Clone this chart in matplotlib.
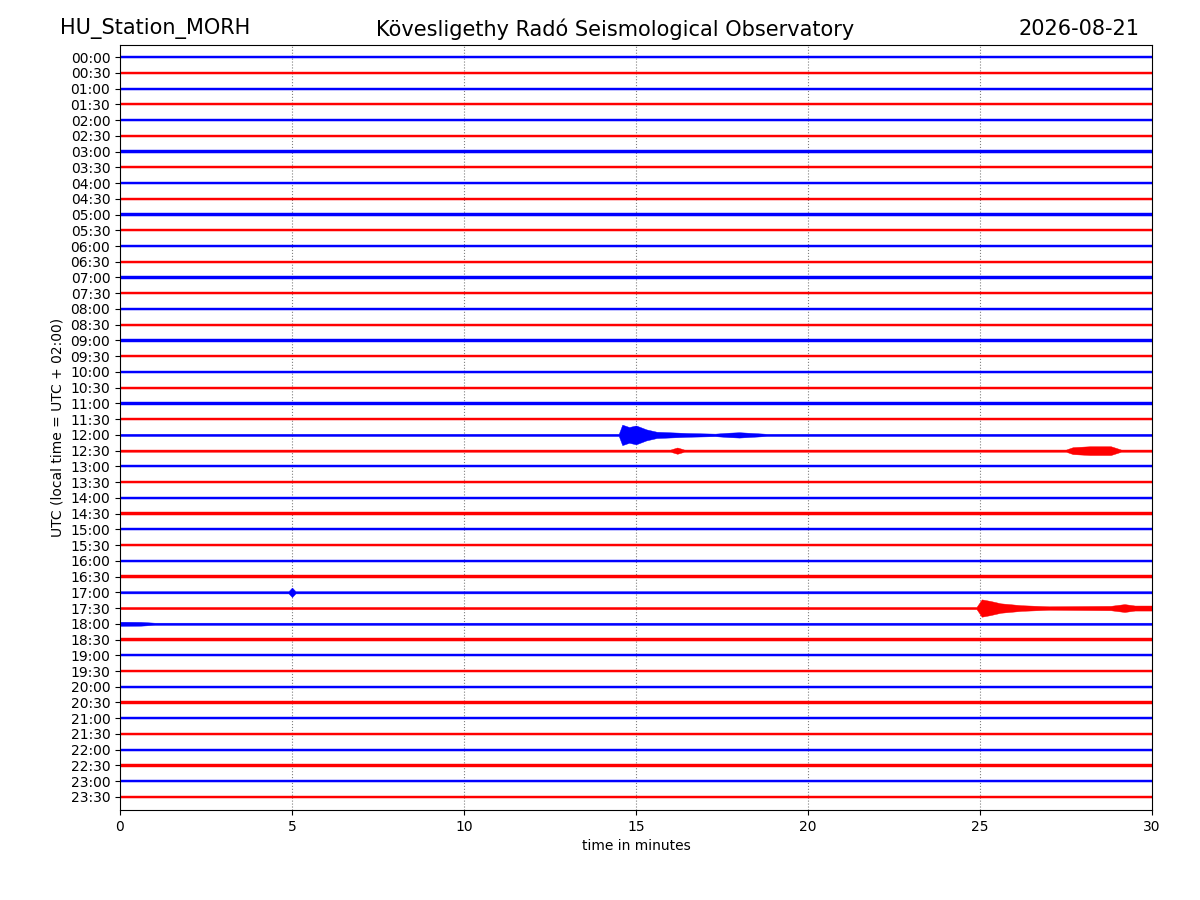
import matplotlib
matplotlib.use("Agg")
import matplotlib.pyplot as plt

station = "HU_Station_MORH"
title = "Kövesligethy Radó Seismological Observatory"
date = "2026-08-21"
row_labels = [f"{h:02d}:{m:02d}" for h in range(24) for m in (0, 30)]
colors = ["blue", "red"]

# default noise half-width (in row units)
nw = 0.07

# event envelopes: row index -> (minute knots, half-width knots)
events = {
    24: ([0, 14.5, 14.6, 14.8, 15.0, 15.3, 15.6, 16.5, 17.3, 17.7, 18.0, 18.4, 18.8, 30],
         [nw, nw, 0.65, 0.5, 0.6, 0.35, 0.2, 0.12, 0.08, 0.14, 0.17, 0.12, nw, nw]),
    25: ([0, 16.0, 16.2, 16.4, 27.5, 27.7, 28.2, 28.8, 29.1, 30],
         [nw, nw, 0.2, nw, nw, 0.22, 0.28, 0.28, nw, nw]),
    34: ([0, 4.9, 5.0, 5.1, 30],
         [nw, nw, 0.3, nw, nw]),
    35: ([0, 24.9, 25.05, 25.3, 25.6, 26.2, 27.0, 28.8, 29.2, 29.5, 30],
         [nw, nw, 0.55, 0.45, 0.3, 0.18, 0.11, 0.14, 0.25, 0.16, 0.16]),
    36: ([0, 0.1, 0.6, 1.0, 30],
         [0.13, 0.13, 0.12, nw, nw]),
}

fig = plt.figure(figsize=(12, 9), dpi=100)
ax = fig.add_axes([0.1, 0.1, 0.86, 0.85])
for i, lab in enumerate(row_labels):
    c = colors[i % 2]
    xs, hw = events.get(i, ([0, 30], [nw, nw]))
    ax.fill_between(xs, [i - h for h in hw], [i + h for h in hw], color=c, lw=0.3, edgecolor=c)
    ax.plot([0, 30], [i, i], color=c, lw=0.8)

ax.set_xlim(0, 30)
ax.set_ylim(47.83, -0.77)
ax.set_yticks(range(len(row_labels)))
ax.set_yticklabels(row_labels)
ax.set_xticks([0, 5, 10, 15, 20, 25, 30])
for xg in [5, 10, 15, 20, 25]:
    ax.axvline(xg, color="gray", ls=":", lw=0.8, zorder=0)
ax.set_xlabel("time in minutes")
ax.set_ylabel("UTC (local time = UTC + 02:00)")
fig.text(0.05, 0.968, station, fontsize=15, ha="left", va="center")
fig.text(0.513, 0.968, title, fontsize=15, ha="center", va="center")
fig.text(0.95, 0.968, date, fontsize=15, ha="right", va="center")
fig.savefig("out.png")
